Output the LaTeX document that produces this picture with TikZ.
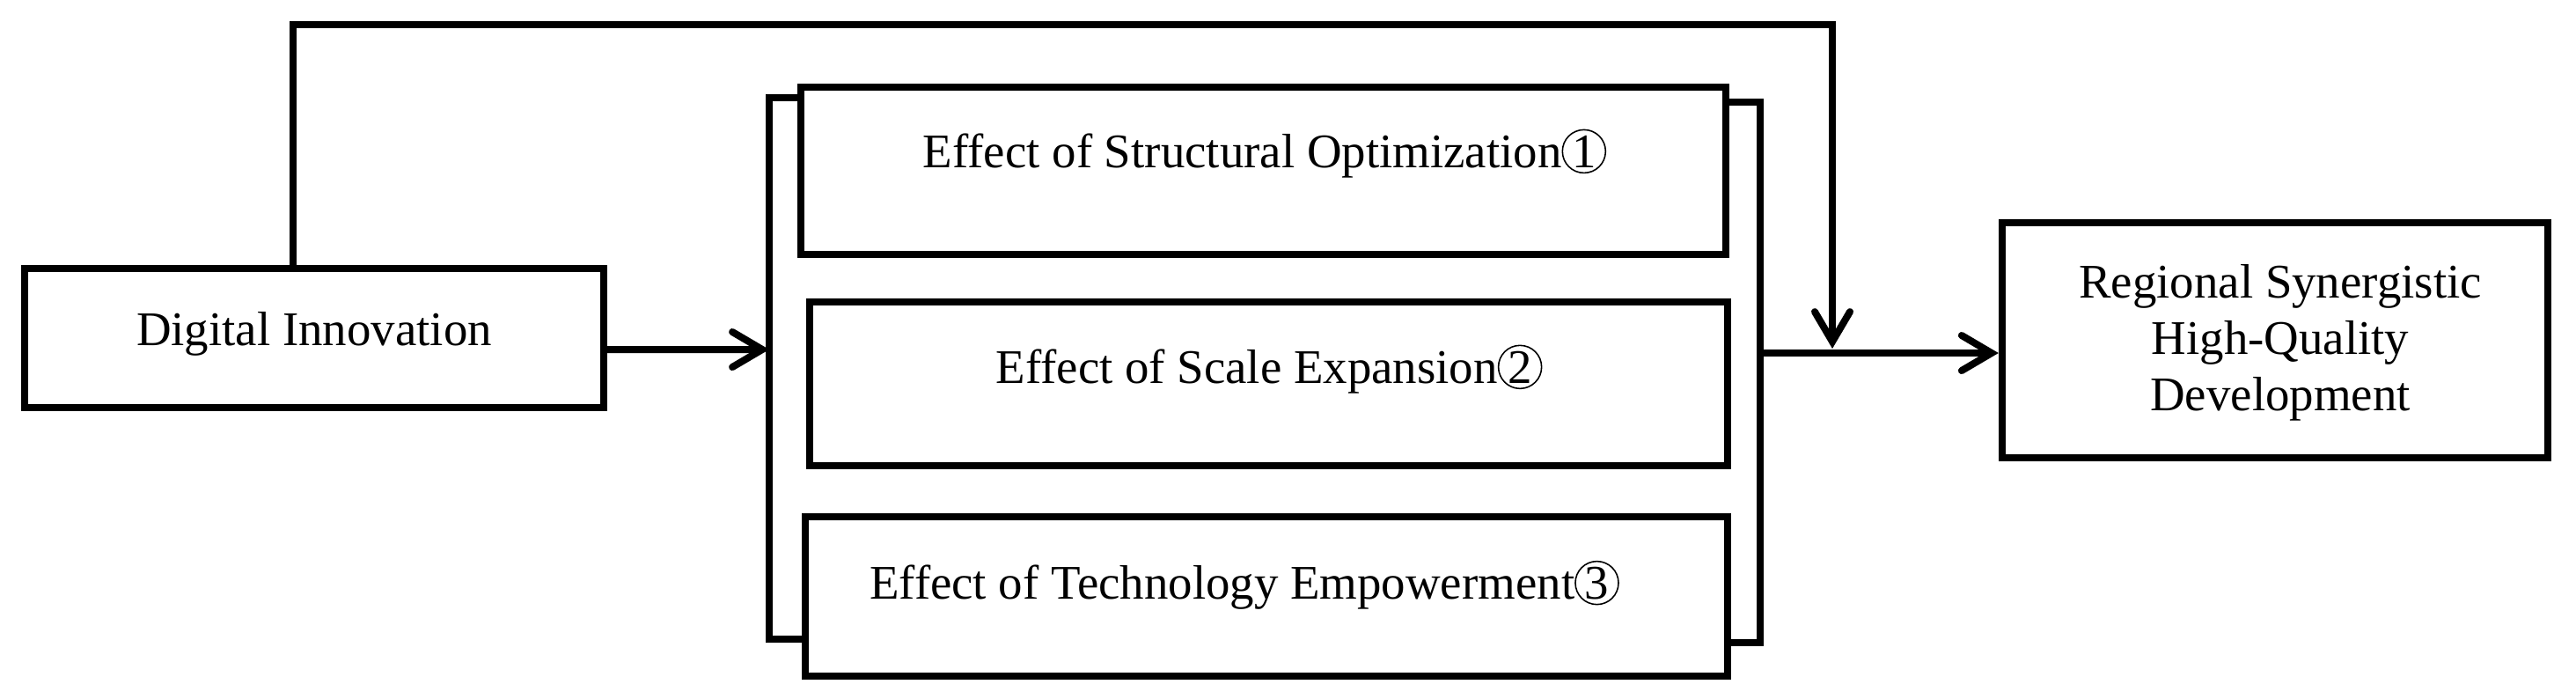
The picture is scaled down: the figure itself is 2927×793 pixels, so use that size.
\documentclass[tikz,border=0pt]{standalone}
\usepackage{fontspec}
\setmainfont{Liberation Serif}
\usetikzlibrary{arrows.meta}
\tikzset{box/.style={shape=rectangle, draw, line width=0.08cm, inner sep=0pt},
lbl/.style={inner sep=0pt, anchor=base, font=\fontsize{15.6}{18.2}\selectfont},
wire/.style={line width=0.08cm},
conn/.style={line width=0.08cm, -{Straight Barb[length=0.34cm,width=0.4cm,line cap=round]}}}
\newcommand{\circnum}[1]{\tikz[baseline=(c.base)]\node[circle, draw, line width=0.45pt, inner sep=0pt, minimum size=0.49cm, yshift=-0.02cm] (c) {#1};}

\begin{document}
\begin{tikzpicture}[x=0.01cm,y=-0.01cm]
\useasboundingbox (0,0) rectangle (2927,793);
\node[box, minimum width=6.58cm, minimum height=1.58cm] (di) at (357,384) {};
\node[box, minimum width=10.51cm, minimum height=1.90cm] (b1) at (1435.5,194) {};
\node[box, minimum width=10.43cm, minimum height=1.86cm] (b2) at (1441.5,436) {};
\node[box, minimum width=10.48cm, minimum height=1.81cm] (b3) at (1439,677.5) {};
\node[box, minimum width=6.20cm, minimum height=2.67cm] (r) at (2585,386.5) {};
\node[lbl] (di-t) at (357,392) {Digital Innovation};
\node[lbl] (b1-t) at (1437,190) {Effect of Structural Optimization\circnum{1}};
\node[lbl] (b2-t) at (1442,435) {Effect of Scale Expansion\circnum{2}};
\node[lbl] (b3-t) at (1414,680) {Effect of Technology Empowerment\circnum{3}};
\node[lbl, anchor=center, align=center] (r-t) at (2591,389) {Regional Synergistic\\High-Quality\\Development};
\coordinate (lb) at (874,397);
\coordinate (rb) at (2000,401);
\coordinate (fb) at (2082,28);
\draw[conn] ([yshift=-0.13cm]di.east) -- (lb);
\draw[wire] ([yshift=-0.16cm]b1.north west) -| (lb) |- ([yshift=0.46cm]b3.south west);
\draw[wire] ([yshift=-0.21cm]b1.north east) -| (rb) |- ([yshift=0.42cm]b3.south east);
\draw[conn] (rb) -- (r.west |- rb);
\draw[conn, shorten >=0.05cm] ([xshift=-0.24cm]di.north) |- (fb) -- (fb |- rb);
\end{tikzpicture}
\end{document}
